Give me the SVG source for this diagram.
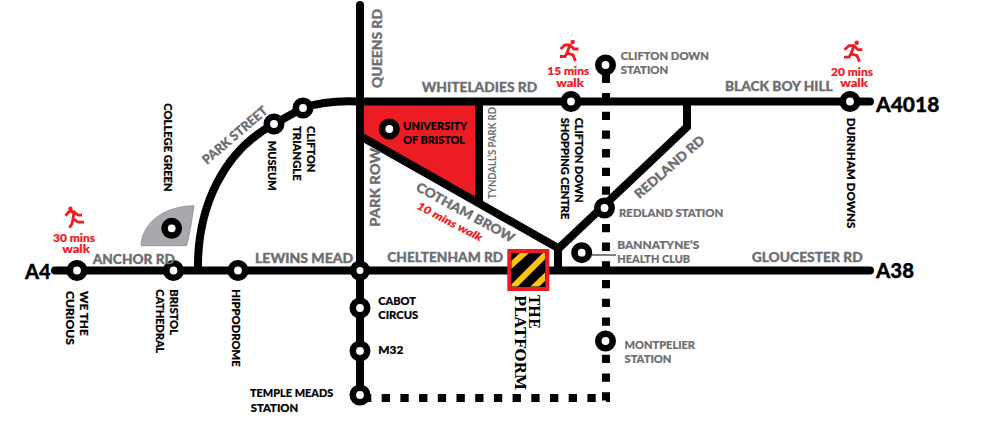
<svg xmlns="http://www.w3.org/2000/svg" width="1000" height="430" viewBox="0 0 1000 430">
<style>
text{font-family:"Lato","Liberation Sans",sans-serif;font-weight:900}
.road{fill:none;stroke:#000;stroke-width:8;stroke-linecap:round;stroke-linejoin:miter}
.rail{fill:none;stroke:#000;stroke-width:8}
.stop{fill:#fff;stroke:#000;stroke-width:6.6}
.g{fill:#6d6e71;font-size:13px;stroke:#6d6e71;stroke-width:.3}
.k{fill:#000;font-size:11px;stroke:#000;stroke-width:.2}
.m{fill:#6d6e71;font-size:11px;stroke:#6d6e71;stroke-width:.2}
.r{fill:#ed1c24;font-size:10.5px;text-anchor:middle;stroke:#ed1c24;stroke-width:.2}
.a{fill:#000;font-size:20px;stroke:#000;stroke-width:.3}
.p{fill:#000;font-family:"DejaVu Serif","Liberation Serif",serif;font-size:15px;font-weight:700}
.run{fill:none;stroke:#ed1c24;stroke-width:2.8;stroke-linejoin:miter}
</style>
<defs>
<g id="runA"><circle cx="12.7" cy="2" r="2.2" fill="#ed1c24"/><path class="run" d="M0.5 9 L5 5 H10 L14 9 H18.5 M10 5 L7 13 L13 15 L15.5 21 M7 13 L5 16.5 H0"/></g>
<g id="runB"><circle cx="5.5" cy="2" r="2.2" fill="#ed1c24"/><path class="run" d="M0.5 9 L4 5 H9 L13 8.5 H17 M9 5 L8 12 L13 15.5 H19 M8 12 L7 17 L4.5 21"/></g>
<clipPath id="hz"><rect x="511.5" y="253" width="33.5" height="33.5"/></clipPath>
</defs>

<g id="park-area"><path d="M141 245.7C142 222 165 206 194 205.7C192 220 190 232 186.7 245.7Z" fill="#a7a9ac" stroke="#808285" stroke-width=".7"/></g>
<g id="university-area"><path d="M362 103H477V199L362 135Z" fill="#ed1c24"/></g>

<g id="connectors">
<path class="road" d="M55 270.5H870"/>
<path class="road" d="M360 5V395"/>
<path class="road" d="M360 101.5H870"/>
<path class="road" style="stroke-linecap:butt" d="M198 270C197 205 225 150 274 124L303 108C320 102 340 100.500 360 101.500"/>
<path class="road" style="stroke-linecap:butt" d="M479 101.500V203"/>
<path class="road" style="stroke-linecap:butt" d="M362 137L558 248"/>
<path class="road" style="stroke-linecap:butt" d="M558 270V249L687 127V101.500"/>
<path class="rail" d="M606 65V83"/>
<path class="rail" stroke-dasharray="8.300 10.400" d="M606 93V402"/>
<path class="rail" stroke-dasharray="8.300 10.400" d="M363 398H610"/>
<path d="M592 255H616" fill="none" stroke="#000" stroke-width="1"/>
</g>

<g id="the-platform">
<rect x="509.300" y="251" width="38" height="38" fill="#000" stroke="#ed1c24" stroke-width="4"/>
<g clip-path="url(#hz)" fill="none" stroke="#ffc20e" stroke-width="6">
<path d="M508 268L530 248M510 290L550 250M530 291L550 272"/>
</g>
<text class="p" transform="translate(529.300 295) rotate(90)" textLength="33.300" lengthAdjust="spacingAndGlyphs">THE</text>
<text class="p" transform="translate(515 295) rotate(90)" textLength="95" lengthAdjust="spacingAndGlyphs">PLATFORM</text>
</g>

<g id="n-we-the-curious"><circle class="stop" cx="77" cy="270.500" r="7.200"/>
<text class="k" transform="translate(80.300 291) rotate(90)" textLength="44.700" lengthAdjust="spacingAndGlyphs">WE THE</text>
<text class="k" transform="translate(65.700 291) rotate(90)" textLength="54" lengthAdjust="spacingAndGlyphs">CURIOUS</text></g>
<g id="n-bristol-cathedral"><circle class="stop" cx="173.500" cy="270.500" r="7.200"/>
<text class="k" transform="translate(170 289.300) rotate(90)" textLength="45.700" lengthAdjust="spacingAndGlyphs">BRISTOL</text>
<text class="k" transform="translate(156 289.300) rotate(90)" textLength="64" lengthAdjust="spacingAndGlyphs">CATHEDRAL</text></g>
<g id="n-hippodrome"><circle class="stop" cx="238" cy="270.500" r="7.200"/>
<text class="k" transform="translate(231.700 289.300) rotate(90)" textLength="77.400" lengthAdjust="spacingAndGlyphs">HIPPODROME</text></g>
<g id="n-college-green"><circle class="stop" cx="171.700" cy="228.300" r="7.200"/>
<text class="k" transform="translate(164.300 103.300) rotate(90)" textLength="88.400" lengthAdjust="spacingAndGlyphs">COLLEGE GREEN</text></g>
<g id="n-museum"><circle class="stop" cx="274" cy="124" r="7.200"/>
<text class="k" transform="translate(268.300 140.700) rotate(90)" textLength="50" lengthAdjust="spacingAndGlyphs">MUSEUM</text></g>
<g id="n-clifton-triangle"><circle class="stop" cx="303" cy="108" r="7.200"/>
<text class="k" transform="translate(307.300 126) rotate(90)" textLength="46.300" lengthAdjust="spacingAndGlyphs">CLIFTON</text>
<text class="k" transform="translate(293.300 126) rotate(90)" textLength="54.700" lengthAdjust="spacingAndGlyphs">TRIANGLE</text></g>
<g id="n-lewins"><circle class="stop" cx="360" cy="270.500" r="6.800"/></g>
<g id="n-cabot-circus"><circle class="stop" cx="360" cy="308" r="7.200"/>
<text class="k" x="378.300" y="305" textLength="37.700" lengthAdjust="spacingAndGlyphs">CABOT</text>
<text class="k" x="378.300" y="319.300" textLength="40" lengthAdjust="spacingAndGlyphs">CIRCUS</text></g>
<g id="n-m32"><circle class="stop" cx="360" cy="351" r="7.200"/>
<text class="k" x="378.300" y="354.300" textLength="25" lengthAdjust="spacingAndGlyphs">M32</text></g>
<g id="n-temple-meads"><circle class="stop" cx="360" cy="395" r="7.200"/>
<text class="k" x="250" y="397.300" textLength="83.300" lengthAdjust="spacingAndGlyphs">TEMPLE MEADS</text>
<text class="k" x="250.700" y="411.700" textLength="47.600" lengthAdjust="spacingAndGlyphs">STATION</text></g>
<g id="n-university"><circle class="stop" cx="389.300" cy="129" r="7.200"/>
<text class="k" x="403.300" y="130" textLength="64" lengthAdjust="spacingAndGlyphs">UNIVERSITY</text>
<text class="k" x="403.300" y="144.300" textLength="61.700" lengthAdjust="spacingAndGlyphs">OF BRISTOL</text></g>
<g id="n-clifton-down-shopping"><circle class="stop" cx="571" cy="101.500" r="7.200"/>
<text class="k" transform="translate(575 117.700) rotate(90)" textLength="85" lengthAdjust="spacingAndGlyphs">CLIFTON DOWN</text>
<text class="k" transform="translate(560.700 117.700) rotate(90)" textLength="101.600" lengthAdjust="spacingAndGlyphs">SHOPPING CENTRE</text></g>
<g id="n-clifton-down-station"><circle class="stop" cx="605.500" cy="65" r="7.200"/>
<text class="m" x="620.700" y="60" textLength="88.300" lengthAdjust="spacingAndGlyphs">CLIFTON DOWN</text>
<text class="m" x="620.700" y="74.300" textLength="47.600" lengthAdjust="spacingAndGlyphs">STATION</text></g>
<g id="n-redland-station"><circle class="stop" cx="604.500" cy="208" r="7.200"/>
<text class="m" x="619" y="216.700" textLength="104.300" lengthAdjust="spacingAndGlyphs">REDLAND STATION</text></g>
<g id="n-bannatyne"><circle class="stop" cx="581.700" cy="252.700" r="7.200"/>
<text class="m" x="617.300" y="249.300" textLength="82" lengthAdjust="spacingAndGlyphs">BANNATYNE’S</text>
<text class="m" x="617.300" y="263.300" textLength="72.700" lengthAdjust="spacingAndGlyphs">HEALTH CLUB</text></g>
<g id="n-montpelier"><circle class="stop" cx="605.500" cy="341" r="7.200"/>
<text class="m" x="624.500" y="349" textLength="70.500" lengthAdjust="spacingAndGlyphs">MONTPELIER</text>
<text class="m" x="624.500" y="363" textLength="47" lengthAdjust="spacingAndGlyphs">STATION</text></g>
<g id="n-durnham-downs"><circle class="stop" cx="850" cy="101.500" r="7.200"/>
<text class="k" transform="translate(846.700 117.700) rotate(90)" textLength="110.600" lengthAdjust="spacingAndGlyphs">DURNHAM DOWNS</text></g>

<g id="road-labels">
<text class="g" x="92.700" y="264" textLength="82.300" lengthAdjust="spacingAndGlyphs">ANCHOR RD</text>
<text class="g" x="255" y="262.700" textLength="98.300" lengthAdjust="spacingAndGlyphs">LEWINS MEAD</text>
<text class="g" x="387.300" y="262" textLength="116" lengthAdjust="spacingAndGlyphs">CHELTENHAM RD</text>
<text class="g" x="421.700" y="91.700" textLength="115.600" lengthAdjust="spacingAndGlyphs">WHITELADIES RD</text>
<text class="g" x="725" y="91" textLength="107.700" lengthAdjust="spacingAndGlyphs">BLACK BOY HILL</text>
<text class="g" x="751.700" y="261.700" textLength="111" lengthAdjust="spacingAndGlyphs">GLOUCESTER RD</text>
<text class="g" transform="translate(381.700 88) rotate(-90)" textLength="79" lengthAdjust="spacingAndGlyphs">QUEENS RD</text>
<text class="g" transform="translate(380 226.700) rotate(-90)" textLength="78.700" lengthAdjust="spacingAndGlyphs">PARK ROW</text>
<text class="g" transform="translate(207 165) rotate(-40.700)" textLength="81" lengthAdjust="spacingAndGlyphs">PARK STREET</text>
<text class="g" transform="translate(639.300 199.300) rotate(-41)" textLength="88" lengthAdjust="spacingAndGlyphs">REDLAND RD</text>
<text class="g" transform="translate(415 190) rotate(28.700)" textLength="110" lengthAdjust="spacingAndGlyphs">COTHAM BROW</text>
<text class="m" style="font-weight:700;font-size:11px;stroke:none" transform="translate(496 199) rotate(-90)" textLength="92" lengthAdjust="spacingAndGlyphs">TYNDALL’S PARK RD</text>
<text class="a" x="876" y="111.700" textLength="63.300" lengthAdjust="spacingAndGlyphs">A4018</text>
<text class="a" x="876" y="278" textLength="38" lengthAdjust="spacingAndGlyphs">A38</text>
<text class="a" x="25" y="279" textLength="25.700" lengthAdjust="spacingAndGlyphs">A4</text>
</g>

<g id="walk-labels">
<use href="#runB" x="65" y="206.700"/>
<text class="r" x="74" y="241.700" textLength="42" lengthAdjust="spacingAndGlyphs">30 mins</text>
<text class="r" x="76" y="253.300" textLength="27.700" lengthAdjust="spacingAndGlyphs">walk</text>
<use href="#runA" x="560" y="40"/>
<text class="r" x="568.300" y="75" textLength="42" lengthAdjust="spacingAndGlyphs">15 mins</text>
<text class="r" x="570" y="86.700" textLength="27.700" lengthAdjust="spacingAndGlyphs">walk</text>
<use href="#runA" x="844" y="40.700"/>
<text class="r" x="852" y="75.700" textLength="42" lengthAdjust="spacingAndGlyphs">20 mins</text>
<text class="r" x="854" y="87.300" textLength="27.700" lengthAdjust="spacingAndGlyphs">walk</text>
<text class="r" style="font-style:italic;text-anchor:start;font-size:10.500px" transform="translate(416 208.300) rotate(27.500)" textLength="72" lengthAdjust="spacingAndGlyphs">10 mins walk</text>
</g>
</svg>
